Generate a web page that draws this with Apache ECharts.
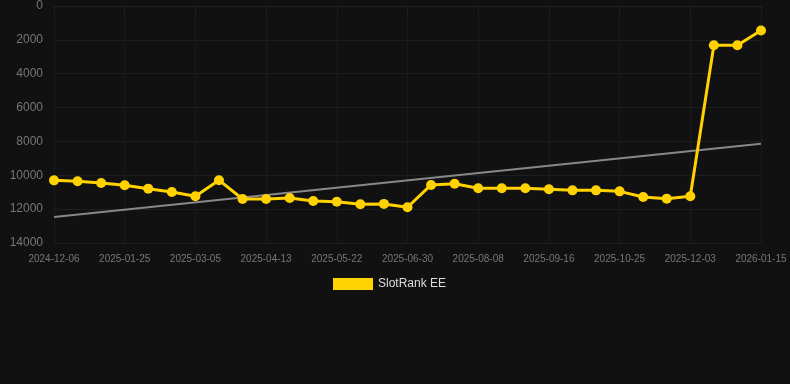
<!DOCTYPE html>
<html>
<head>
<meta charset="utf-8">
<script src="https://cdn.jsdelivr.net/npm/echarts@6/dist/echarts.min.js"></script>
<style>
html,body{margin:0;padding:0;background:#111111;}
#c{width:790px;height:384px;}
</style>
</head>
<body>
<div id="c"></div>
<script>
var categories = [
  '2024-12-06','2024-12-23','2025-01-08','2025-01-25','2025-02-07','2025-02-20',
  '2025-03-05','2025-03-18','2025-03-31','2025-04-13','2025-04-26','2025-05-09',
  '2025-05-22','2025-06-04','2025-06-17','2025-06-30','2025-07-13','2025-07-26',
  '2025-08-08','2025-08-21','2025-09-03','2025-09-16','2025-09-29','2025-10-12',
  '2025-10-25','2025-11-07','2025-11-20','2025-12-03','2025-12-17','2025-12-31',
  '2026-01-15'
];
var rankValues = [
  10300, 10350, 10460, 10590, 10790, 10990,
  11240, 10290, 11400, 11400, 11340, 11520,
  11560, 11710, 11690, 11890, 10570, 10500,
  10770, 10770, 10770, 10830, 10890, 10890,
  10950, 11280, 11380, 11240, 2320, 2320,
  1450
];
var trendValues = [12460, 8135];
var yTicks = [0, 2000, 4000, 6000, 8000, 10000, 12000, 14000];

var chart = echarts.init(document.getElementById('c'), null, {renderer: 'canvas'});
chart.setOption({
  backgroundColor: '#111111',
  animation: false,
  textStyle: {fontFamily: 'Liberation Sans, Arial, sans-serif'},
  grid: {left: 54, right: 29, top: 6, bottom: 141, containLabel: false},
  legend: {
    left: 328, top: 273,
    itemWidth: 40, itemHeight: 12, itemGap: 10,
    icon: 'rect',
    textStyle: {color: '#dddddd', fontSize: 12, fontFamily: 'Liberation Sans, Arial, sans-serif'},
    data: [{name: 'SlotRank EE', icon: 'rect'}]
  },
  xAxis: {
    type: 'category',
    data: categories,
    boundaryGap: false,
    axisLine: {show: true, lineStyle: {color: '#1f1f1f'}},
    axisTick: {show: true, interval: 2, lineStyle: {color: '#222222'}},
    axisLabel: {interval: 2, color: '#777777', fontSize: 10, margin: 11},
    splitLine: {show: true, interval: 2, lineStyle: {color: '#1b1b1b', width: 1}}
  },
  yAxis: {
    type: 'value',
    inverse: true,
    min: yTicks[0],
    max: yTicks[yTicks.length - 1],
    interval: 2000,
    axisLine: {show: false},
    axisTick: {show: false},
    axisLabel: {color: '#777777', fontSize: 12, margin: 11, formatter: function (v) { return String(v); }},
    splitLine: {show: true, lineStyle: {color: '#1e1e1e', width: 1}}
  },
  series: [
    {
      name: 'SlotRank EE',
      type: 'line',
      data: rankValues,
      symbol: 'circle',
      symbolSize: 10,
      itemStyle: {color: '#FFD200'},
      lineStyle: {color: '#FFD200', width: 3},
      z: 3
    },
    {
      name: 'trend',
      type: 'line',
      data: [[categories[0], trendValues[0]], [categories[categories.length - 1], trendValues[1]]],
      symbol: 'none',
      lineStyle: {color: '#888888', width: 2},
      itemStyle: {color: '#888888'},
      silent: true,
      z: 2
    }
  ]
});
</script>
</body>
</html>
